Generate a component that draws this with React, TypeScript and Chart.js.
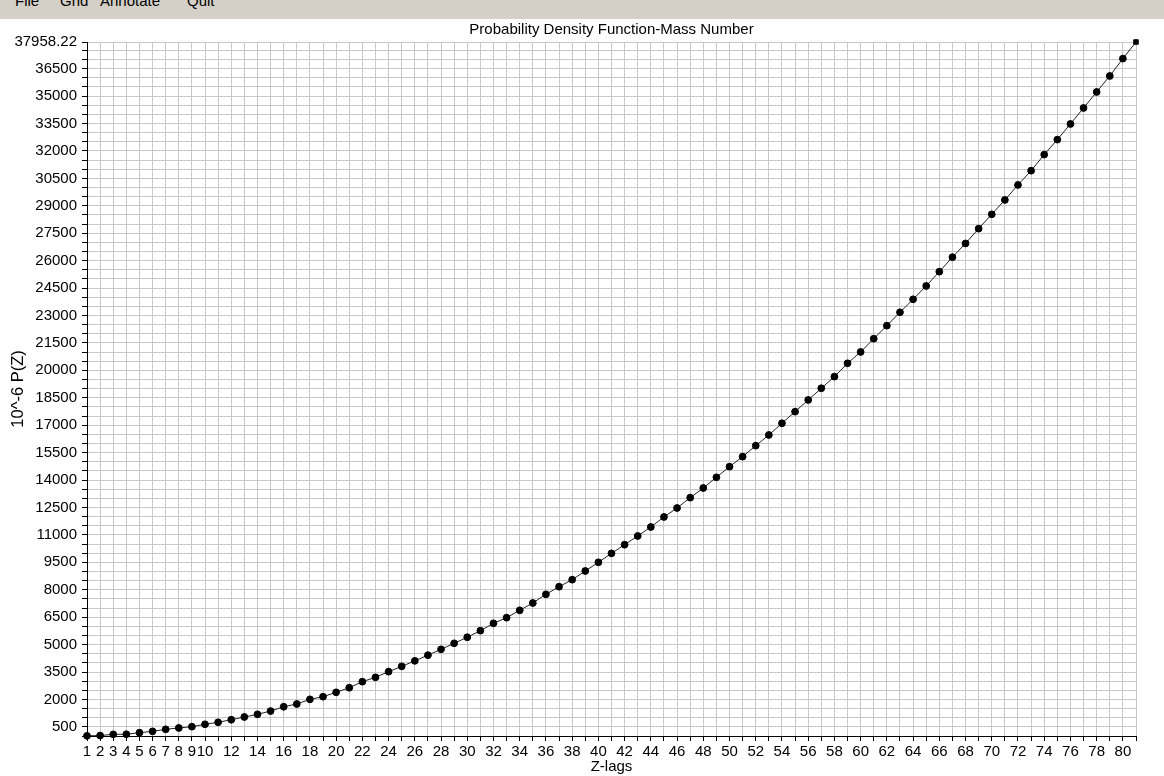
import React, { useEffect, useRef } from 'react';
import { Chart, registerables } from 'chart.js';

Chart.register(...registerables);

const chartTitle = 'Probability Density Function-Mass Number';
const xAxisTitle = 'Z-lags';
const yAxisTitle = '10^-6 P(Z)';
const menuItems = ['File', 'Grid', 'Annotate', 'Quit'];

const zLags = [
  1, 2, 3, 4, 5, 6, 7, 8, 9, 10,
  11, 12, 13, 14, 15, 16, 17, 18, 19, 20,
  21, 22, 23, 24, 25, 26, 27, 28, 29, 30,
  31, 32, 33, 34, 35, 36, 37, 38, 39, 40,
  41, 42, 43, 44, 45, 46, 47, 48, 49, 50,
  51, 52, 53, 54, 55, 56, 57, 58, 59, 60,
  61, 62, 63, 64, 65, 66, 67, 68, 69, 70,
  71, 72, 73, 74, 75, 76, 77, 78, 79, 80,
  81,
];

const pzValues = [
  10, 25, 90, 95, 180, 255, 365, 440, 510, 640,
  750, 890, 1040, 1185, 1365, 1600, 1750, 2005, 2150, 2390,
  2640, 2970, 3210, 3520, 3810, 4110, 4420, 4740, 5070, 5400,
  5760, 6165, 6470, 6875, 7275, 7750, 8165, 8550, 9025, 9500,
  9990, 10465, 10940, 11430, 11980, 12470, 13035, 13565, 14150, 14730,
  15280, 15880, 16465, 17105, 17740, 18380, 19020, 19655, 20385, 21005,
  21730, 22445, 23175, 23885, 24615, 25395, 26190, 26940, 27750, 28535,
  29320, 30140, 30920, 31800, 32620, 33475, 34350, 35225, 36100, 37050,
  37958.22,
];

const xLabelValues = [
  1, 2, 3, 4, 5, 6, 7, 8, 9, 10,
  12, 14, 16, 18, 20, 22, 24, 26, 28, 30,
  32, 34, 36, 38, 40, 42, 44, 46, 48, 50,
  52, 54, 56, 58, 60, 62, 64, 66, 68, 70,
  72, 74, 76, 78, 80,
];

const yLabelValues = [
  500, 2000, 3500, 5000, 6500, 8000, 9500, 11000, 12500, 14000,
  15500, 17000, 18500, 20000, 21500, 23000, 24500, 26000, 27500, 29000,
  30500, 32000, 33500, 35000, 36500, 37958.22,
];

const xMin = 1;
const xMax = 81;
const yMin = 0;
const yMax = 37958.22;
const yGridStep = 500;

const FONT = '"Liberation Sans", Arial, Helvetica, sans-serif';

export default function App() {
  const canvasRef = useRef<HTMLCanvasElement | null>(null);

  useEffect(() => {
    if (!canvasRef.current) return;
    const font = { family: FONT, size: 15, weight: 'normal' as const, lineHeight: 1.2 };
    const yTitleFont = { family: FONT, size: 16.5, weight: 'normal' as const, lineHeight: 1.2 };
    const lastIndex = pzValues.length - 1;
    const chart = new Chart(canvasRef.current, {
      type: 'line',
      data: {
        datasets: [
          {
            data: zLags.map((z, i) => ({ x: z, y: pzValues[i] })),
            borderColor: '#222',
            borderWidth: 1,
            tension: 0,
            pointBackgroundColor: '#000',
            pointBorderColor: '#000',
            pointBorderWidth: 1,
            pointStyle: (ctx: any) => (ctx.dataIndex === lastIndex ? 'rect' : 'circle'),
            pointRadius: (ctx: any) => (ctx.dataIndex === lastIndex ? 3.2 : 3.4),
            clip: false as any,
          },
        ],
      },
      options: {
        animation: false,
        responsive: false,
        devicePixelRatio: 1,
        layout: { padding: { left: 0, right: 28, top: 0, bottom: 0 } },
        plugins: {
          legend: { display: false },
          tooltip: { enabled: false },
          title: {
            display: true,
            fullSize: false,
            text: chartTitle,
            color: '#000',
            font,
            padding: { top: 21, bottom: 3 },
          },
        },
        scales: {
          x: {
            type: 'linear',
            min: xMin,
            max: xMax,
            afterFit: (s: any) => {
              s.height = 40;
            },
            ticks: {
              stepSize: 1,
              autoSkip: false,
              maxRotation: 0,
              minRotation: 0,
              padding: 2,
              color: '#000',
              font,
              callback: (v: any) => (xLabelValues.includes(Number(v)) ? String(v) : ''),
            },
            grid: {
              color: '#c8c8c8',
              lineWidth: 1,
              tickColor: '#000',
              tickLength: 5,
              drawTicks: true,
            },
            border: { color: '#000', width: 1 },
            title: {
              display: true,
              text: xAxisTitle,
              color: '#000',
              font,
              padding: { top: 0, bottom: 0 },
            },
          },
          y: {
            type: 'linear',
            min: yMin,
            max: yMax,
            afterFit: (s: any) => {
              s.width = 87;
            },
            afterBuildTicks: (s: any) => {
              const t: { value: number }[] = [];
              for (let v = yMin; v < yMax; v += yGridStep) t.push({ value: v });
              t.push({ value: yMax });
              s.ticks = t;
            },
            ticks: {
              autoSkip: false,
              padding: 5,
              color: '#000',
              font,
              callback: (v: any) => (yLabelValues.includes(Number(v)) ? String(v) : ''),
            },
            grid: {
              color: '#c8c8c8',
              lineWidth: 1,
              tickColor: '#000',
              tickLength: 5,
              drawTicks: true,
            },
            border: { color: '#000', width: 1 },
            title: {
              display: true,
              text: yAxisTitle,
              color: '#000',
              font: yTitleFont,
              padding: { top: 9, bottom: 0 },
            },
          },
        },
      } as any,
    });
    return () => chart.destroy();
  }, []);

  const menuLefts = [15, 60, 100, 187];

  return (
    <div
      style={{
        position: 'absolute',
        top: 0,
        left: 0,
        width: 1164,
        height: 776,
        background: '#fff',
        overflow: 'hidden',
      }}
    >
      <canvas
        ref={canvasRef}
        width={1164}
        height={776}
        style={{ position: 'absolute', top: 0, left: 0, width: 1164, height: 776, display: 'block' }}
      />
      <div
        style={{
          position: 'absolute',
          top: 0,
          left: 0,
          width: 1164,
          height: 19,
          background: '#d4d0c8',
          overflow: 'hidden',
          fontFamily: FONT,
          fontSize: 15,
          lineHeight: '15px',
          color: '#000',
        }}
      >
        {menuItems.map((m, i) => (
          <span key={m} style={{ position: 'absolute', top: -7, left: menuLefts[i], whiteSpace: 'nowrap' }}>
            {m}
          </span>
        ))}
      </div>
    </div>
  );
}
